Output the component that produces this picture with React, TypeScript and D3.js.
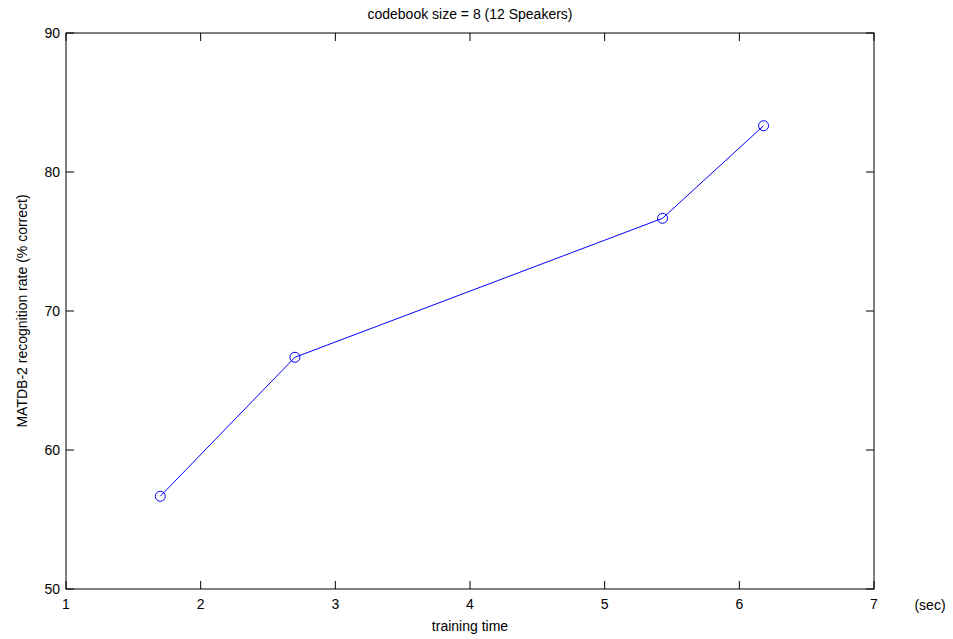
import React, { useRef, useEffect } from "react";
import * as d3 from "d3";

const trainingTime = [1.7, 2.7, 5.43, 6.18];
const recognitionRate = [56.67, 66.67, 76.67, 83.33];
const xTicks = [1, 2, 3, 4, 5, 6, 7];
const yTicks = [50, 60, 70, 80, 90];

const W = 953;
const H = 639;
const margin = { top: 33, right: 79, bottom: 50, left: 66 };

const App = () => {
  const ref = useRef<SVGSVGElement | null>(null);

  useEffect(() => {
    const svg = d3.select(ref.current);
    svg.selectAll("*").remove();

    const x = d3.scaleLinear().domain([1, 7]).range([margin.left, W - margin.right]);
    const y = d3.scaleLinear().domain([50, 90]).range([H - margin.bottom, margin.top]);
    const font = "'Liberation Sans', Arial, sans-serif";

    svg.append("rect").attr("width", W).attr("height", H).attr("fill", "#fff");

    // frame
    svg.append("rect")
      .attr("x", x(1)).attr("y", y(90))
      .attr("width", x(7) - x(1)).attr("height", y(50) - y(90))
      .attr("fill", "none").attr("stroke", "#000").attr("stroke-width", 1);

    const tl = 8;
    // x ticks (inside, top and bottom)
    xTicks.forEach((t) => {
      svg.append("line").attr("x1", x(t)).attr("x2", x(t)).attr("y1", y(50)).attr("y2", y(50) - tl).attr("stroke", "#000");
      svg.append("line").attr("x1", x(t)).attr("x2", x(t)).attr("y1", y(90)).attr("y2", y(90) + tl).attr("stroke", "#000");
      svg.append("text").attr("x", x(t)).attr("y", y(50) + 20)
        .attr("text-anchor", "middle").style("font-family", font).style("font-size", "14px").text(t);
    });
    yTicks.forEach((t) => {
      svg.append("line").attr("x1", x(1)).attr("x2", x(1) + tl).attr("y1", y(t)).attr("y2", y(t)).attr("stroke", "#000");
      svg.append("line").attr("x1", x(7)).attr("x2", x(7) - tl).attr("y1", y(t)).attr("y2", y(t)).attr("stroke", "#000");
      svg.append("text").attr("x", x(1) - 6).attr("y", y(t) + 5)
        .attr("text-anchor", "end").style("font-family", font).style("font-size", "14px").text(t);
    });

    const pts = trainingTime.map((d, i) => [d, recognitionRate[i]] as [number, number]);
    svg.append("path")
      .attr("d", d3.line<[number, number]>().x((d) => x(d[0])).y((d) => y(d[1]))(pts))
      .attr("fill", "none").attr("stroke", "#0000ff").attr("stroke-width", 1);
    svg.selectAll("circle.m").data(pts).join("circle")
      .attr("cx", (d) => x(d[0])).attr("cy", (d) => y(d[1])).attr("r", 5)
      .attr("fill", "none").attr("stroke", "#0000ff").attr("stroke-width", 1);

    svg.append("text").attr("x", (x(1) + x(7)) / 2).attr("y", 19)
      .attr("text-anchor", "middle").style("font-family", font).style("font-size", "14px")
      .text("codebook size = 8 (12 Speakers)");
    svg.append("text").attr("x", (x(1) + x(7)) / 2).attr("y", 631)
      .attr("text-anchor", "middle").style("font-family", font).style("font-size", "14px")
      .text("training time");
    svg.append("text").attr("x", 930).attr("y", 610)
      .attr("text-anchor", "middle").style("font-family", font).style("font-size", "14px")
      .text("(sec)");
    svg.append("text").attr("transform", `translate(27, ${(y(50) + y(90)) / 2}) rotate(-90)`)
      .attr("text-anchor", "middle").style("font-family", font).style("font-size", "14px")
      .text("MATDB-2 recognition rate (% correct)");
  }, []);

  return <svg ref={ref} width={W} height={H} style={{ position: "absolute", left: 0, top: 0 }} />;
};

export default App;
